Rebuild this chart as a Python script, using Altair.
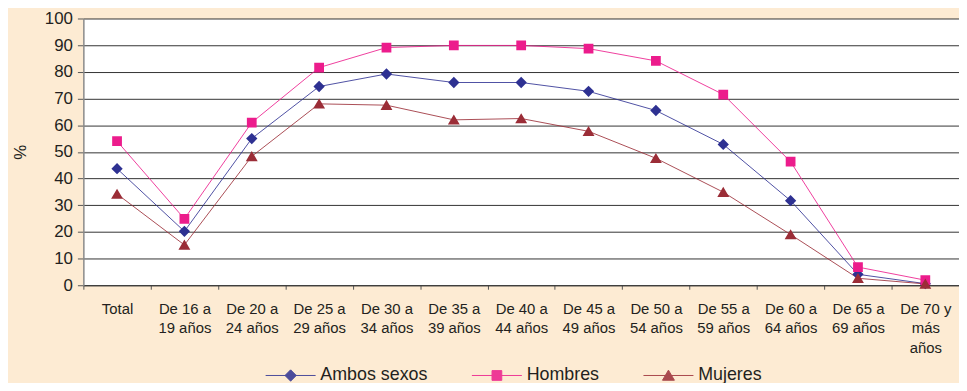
import altair as alt
import pandas as pd

categories = [
    "Total", "De 16 a|19 años", "De 20 a|24 años", "De 25 a|29 años",
    "De 30 a|34 años", "De 35 a|39 años", "De 40 a|44 años", "De 45 a|49 años",
    "De 50 a|54 años", "De 55 a|59 años", "De 60 a|64 años", "De 65 a|69 años",
    "De 70 y|más|años",
]
series = ["Ambos sexos", "Hombres", "Mujeres"]
ambos = [43.7, 20.2, 55.0, 74.5, 79.2, 76.0, 76.0, 72.7, 65.5, 52.8, 31.7, 4.1, 0.6]
hombres = [54.0, 24.9, 61.0, 81.6, 89.1, 89.9, 89.9, 88.7, 84.1, 71.5, 46.3, 6.8, 1.9]
mujeres = [34.2, 15.1, 48.3, 68.0, 67.5, 62.0, 62.5, 57.7, 47.6, 34.9, 19.0, 2.6, 0.5]
y_ticks = list(range(0, 101, 10))

colors = ["#2e3192", "#ec1c8c", "#9b2d37"]
# marker shapes (diamond, square, triangle) with a horizontal stroke used in the legend
shapes = [
    "M-4.2,0H4.2M0,-0.95L0.95,0L0,0.95L-0.95,0Z",
    "M-4.2,0H4.2M-0.82,-0.82H0.82V0.82H-0.82Z",
    "M-4.2,0H4.2M0,-0.9L1,0.8H-1Z",
]

rows = []
for s, vals in zip(series, [ambos, hombres, mujeres]):
    for c, v in zip(categories, vals):
        rows.append({"categoria": c, "serie": s, "valor": v})
df = pd.DataFrame(rows)

x_enc = alt.X(
    "categoria:N", sort=categories,
    scale=alt.Scale(type="band", domain=categories, paddingInner=0, paddingOuter=0),
    axis=alt.Axis(
        title=None, labelAngle=0, tickBand="extent", tickSize=4, tickColor="#555555",
        labelExpr="isString(datum.value) ? split(datum.value, '|') : ''",
        labelFontSize=15, labelLineHeight=20,
        labelPadding=12, labelColor="#231f20", domainColor="#333333",
        labelFont="Liberation Sans",
    ),
)
y_enc = alt.Y(
    "valor:Q",
    scale=alt.Scale(domain=[0, 100], nice=False),
    axis=alt.Axis(
        values=y_ticks, title="%", titleFontSize=17, titleFontWeight="normal",
        titleColor="#231f20", titlePadding=15, titleFont="Liberation Sans",
        labelFontSize=17, labelColor="#231f20", labelPadding=5, labelFont="Liberation Sans",
        tickSize=6, tickColor="#555555", grid=True, gridColor="#333333", gridWidth=1,
        domainColor="#8a8a8a", domainWidth=1.5,
    ),
)

color_scale = alt.Scale(domain=series, range=colors)
shape_scale = alt.Scale(domain=series, range=shapes)

legend = alt.Legend(
    title=None, orient="none", direction="horizontal", legendX=181, legendY=351,
    labelFontSize=18, labelColor="#231f20", labelFont="Liberation Sans",
    symbolSize=144, symbolOffset=19, labelOffset=21, columnPadding=41,
    symbolStrokeWidth=1, symbolType="square",
)

base = alt.Chart(df).encode(x=x_enc, y=y_enc)

lines = base.mark_line(strokeWidth=1, opacity=0.85).encode(
    color=alt.Color("serie:N", scale=color_scale, legend=legend)
)
points = base.mark_point(filled=True, size=144, opacity=1).encode(
    color=alt.Color("serie:N", scale=color_scale, legend=legend),
    shape=alt.Shape("serie:N", scale=shape_scale, legend=legend),
)

chart = (
    alt.layer(lines, points)
    .properties(
        width=883, height=269,
        padding={"left": 76, "top": 9, "right": 0, "bottom": 97},
        autosize=alt.AutoSizeParams(type="none"),
        background="#fdebd3",
    )
    .configure_view(fill="white", strokeOpacity=0)
)

chart.save("out.html", embed_options={"renderer": "svg", "actions": False})
